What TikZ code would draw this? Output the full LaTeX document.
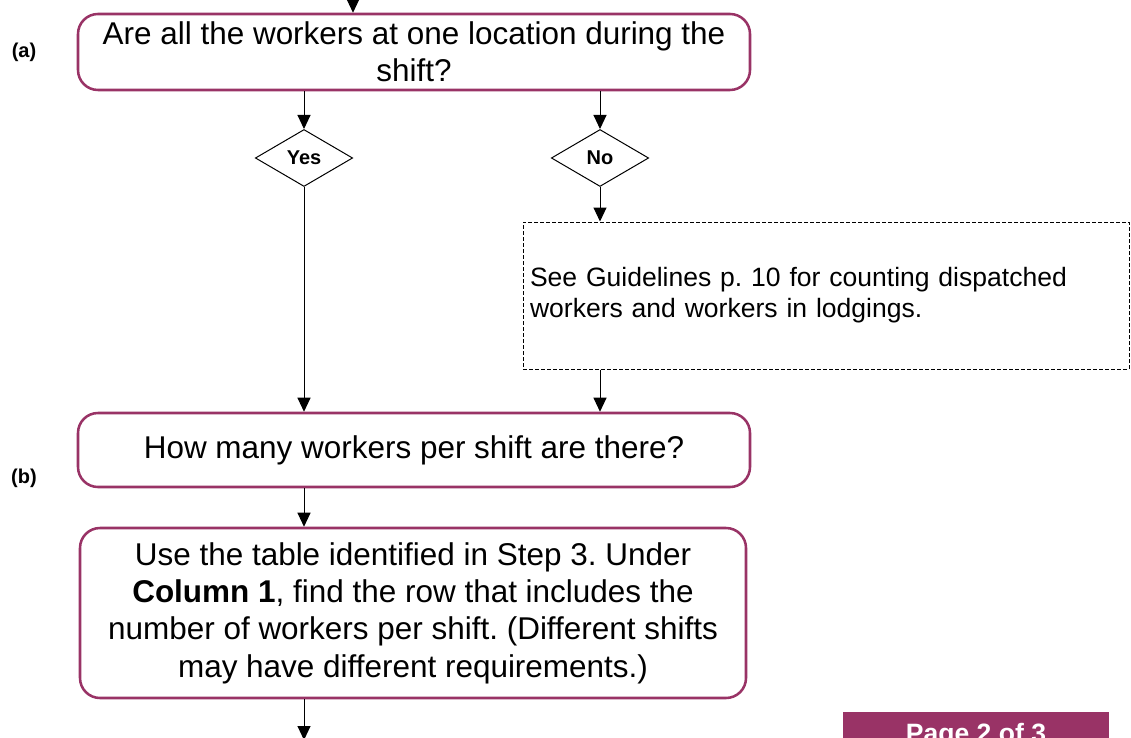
\documentclass[tikz,border=0pt]{standalone}
\usepackage{fontspec}
\setmainfont{Liberation Sans}
\usetikzlibrary{shapes.geometric,arrows.meta}
\definecolor{plum}{RGB}{153,51,102}
\frenchspacing
\begin{document}
\begin{tikzpicture}[x=0.75pt, y=-0.75pt, line width=0.75pt,
  main/.style = {draw=plum, line width=1.9pt, rounded corners=15pt, align=center, inner sep=0pt, font=\fontsize{23.6}{27.75}\selectfont},
  choice/.style = {draw, diamond, minimum width=73pt, minimum height=42.75pt, inner sep=0pt, font=\fontsize{15}{18}\selectfont\bfseries},
  note/.style = {draw, dash pattern=on 3pt off 1.5pt, align=left, inner xsep=5.25pt, font=\fontsize{19.9}{23.25}\selectfont},
  tag/.style = {font=\fontsize{15}{18}\selectfont\bfseries},
  arr/.style = {-{Triangle[width=9.75pt,length=10.5pt]}}]
\useasboundingbox (0,0) rectangle (1131,738);
\clip (0,0) rectangle (1131,738);
\node[main, minimum width=504pt, minimum height=57pt] (q1) at (414,52) {Are all the workers at one location during the\\shift?};
\node[tag] (la) at (24,52) {(a)};
\node[choice] (yes) at (304,158) {Yes};
\node[choice] (no) at (600,158) {No};
\node[note, text width=444pt, minimum height=110.25pt] (g) at (826,295.5) {See Guidelines p. 10 for counting dispatched\\workers and workers in lodgings.};
\node[main, minimum width=504pt, minimum height=55.5pt] (q2) at (414,450) {How many workers per shift are there?};
\node[tag] (lb) at (24,478) {(b)};
\node[main, minimum width=499.5pt, minimum height=127.5pt, font=\fontsize{23.6}{28}\selectfont] (step) at (413,613) {Use the table identified in Step 3. Under\\\textbf{Column 1}, find the row that includes the\\number of workers per shift. (Different shifts\\may have different requirements.)};
\node[fill=plum, text=white, minimum width=199.5pt, minimum height=36pt, font=\fontsize{19.9}{23}\selectfont\bfseries] (page) at (976,736) {Page 2 of 3};
\coordinate (top) at (353,-20);
\coordinate (end) at (304,740);
\draw[arr] (top) -- (top |- q1.north);
\draw[arr] (q1.south -| yes) -- (yes);
\draw[arr] (q1.south -| no) -- (no);
\draw[arr] (yes) -- (yes |- q2.north);
\draw[arr] (no) -- (no |- g.north);
\draw[arr] (g.south -| no) -- (no |- q2.north);
\draw[arr] (q2.south -| yes) -- (step.north -| yes);
\draw[arr] (step.south -| yes) -- (end);
\end{tikzpicture}
\end{document}
